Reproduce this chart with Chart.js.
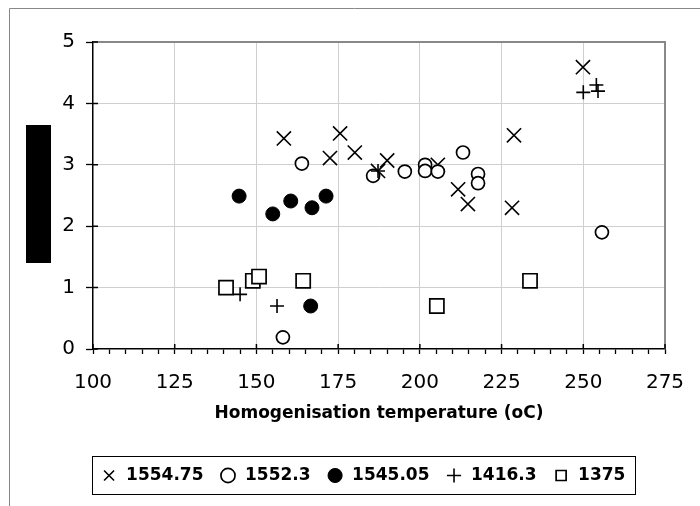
<!DOCTYPE html>
<html>
<head>
<meta charset="utf-8">
<script src="https://cdn.jsdelivr.net/npm/chart.js@4.4.1/dist/chart.umd.min.js"></script>
<style>
html, body { margin: 0; padding: 0; background: #fff; }
#wrap { width: 700px; height: 506px; position: relative; }
</style>
</head>
<body>
<div id="wrap"><canvas id="myChart"></canvas></div>
<script>
// series
var seriesNames = ["1554.75", "1552.3", "1545.05", "1416.3", "1375"];

var x1554 = [158.4, 175.6, 172.5, 180.1, 187.2, 190, 205.5, 211.7, 214.7, 228.2, 228.8, 249.9];
var y1554 = [3.43, 3.51, 3.11, 3.2, 2.9, 3.07, 3.0, 2.6, 2.36, 2.3, 3.48, 4.59];

var x1552 = [163.9, 158.1, 185.7, 195.4, 201.6, 201.6, 205.5, 213.2, 217.8, 217.8, 255.7];
var y1552 = [3.02, 0.19, 2.82, 2.89, 3.0, 2.9, 2.89, 3.2, 2.85, 2.7, 1.9];

var x1545 = [144.7, 155, 160.5, 167, 171.3, 166.6];
var y1545 = [2.49, 2.2, 2.41, 2.3, 2.49, 0.7];

var x1416 = [145, 156.3, 187.2, 250, 254.5, 254];
var y1416 = [0.89, 0.7, 2.9, 4.18, 4.2, 4.3];

var x1375 = [140.7, 148.9, 150.8, 164.3, 205.2, 233.7];
var y1375 = [1.0, 1.11, 1.18, 1.11, 0.7, 1.11];

var xTickLabels = [100, 125, 150, 175, 200, 225, 250, 275];
var yTickLabels = [0, 1, 2, 3, 4, 5];
var xTitle = "Homogenisation temperature (oC)";

function pts(xs, ys){
    return xs.map(function(v, i){ return {x: v, y: ys[i]}; });
}

Chart.defaults.font.family = "'DejaVu Sans', sans-serif";
Chart.defaults.color = '#000';

var framePlugin = {
    id: 'frame',
    beforeDraw: function(chart){
        var ctx = chart.ctx;
        ctx.save();
        ctx.strokeStyle = '#888';
        ctx.lineWidth = 1;
        ctx.beginPath();
        ctx.moveTo(9.5, 506); ctx.lineTo(9.5, 8.5); ctx.lineTo(700, 8.5);
        ctx.stroke();
        // hidden y axis title
        ctx.fillStyle = '#000';
        ctx.fillRect(26, 125, 25, 138);
        ctx.restore();
    },
    beforeDatasetsDraw: function(chart){
        var ctx = chart.ctx, a = chart.chartArea;
        ctx.save();
        ctx.strokeStyle = '#888';
        ctx.lineWidth = 2;
        ctx.beginPath();
        ctx.moveTo(a.left, a.top); ctx.lineTo(a.right, a.top); ctx.lineTo(a.right, a.bottom);
        ctx.stroke();
        ctx.restore();
    },
    afterDraw: function(chart){
        var ctx = chart.ctx, a = chart.chartArea;
        var xs = chart.scales.x, ys = chart.scales.y;
        ctx.save();
        ctx.strokeStyle = '#000';
        ctx.lineWidth = 1.5;
        ctx.beginPath();
        xTickLabels.forEach(function(v){
            var px = xs.getPixelForValue(v);
            ctx.moveTo(px, a.bottom - 5); ctx.lineTo(px, a.bottom);
        });
        yTickLabels.forEach(function(v){
            var py = ys.getPixelForValue(v);
            ctx.moveTo(a.left, py); ctx.lineTo(a.left + 5, py);
        });
        ctx.stroke();

        // legend border
        var hb = chart.legend.legendHitBoxes;
        if (hb && hb.length){
            var l = Math.min.apply(null, hb.map(function(h){ return h.left; }));
            var r = Math.max.apply(null, hb.map(function(h){ return h.left + h.width; }));
            var t = hb[0].top;
            ctx.lineWidth = 1;
            ctx.strokeStyle = '#000';
            ctx.strokeRect(Math.round(l - 9) + 0.5, Math.round(t - 11) + 0.5, Math.round(r - l + 18), 38);
        }
        ctx.restore();
    }
};

var ctx = document.getElementById('myChart').getContext('2d');
var myChart = new Chart(ctx, {
    type: 'scatter',
    data: {
        datasets: [{
            label: seriesNames[0],
            data: pts(x1554, y1554),
            pointStyle: 'crossRot',
            pointRadius: 10,
            borderColor: '#000',
            borderWidth: 1.6,
            order: 5
        }, {
            label: seriesNames[1],
            data: pts(x1552, y1552),
            pointStyle: 'circle',
            pointRadius: 6.5,
            borderColor: '#000',
            backgroundColor: '#fff',
            borderWidth: 1.7,
            order: 4
        }, {
            label: seriesNames[2],
            data: pts(x1545, y1545),
            pointStyle: 'circle',
            pointRadius: 7,
            borderColor: '#000',
            backgroundColor: '#000',
            borderWidth: 1,
            order: 3
        }, {
            label: seriesNames[3],
            data: pts(x1416, y1416),
            pointStyle: 'cross',
            pointRadius: 7,
            borderColor: '#000',
            borderWidth: 1.6,
            order: 2
        }, {
            label: seriesNames[4],
            data: pts(x1375, y1375),
            pointStyle: 'rect',
            pointRadius: 10,
            borderColor: '#000',
            backgroundColor: '#fff',
            borderWidth: 1.7,
            order: 1
        }]
    },
    options: {
        responsive: true,
        maintainAspectRatio: false,
        animation: false,
        layout: { padding: { left: 26, right: 0, top: 42, bottom: 12 } },
        plugins: {
            tooltip: { enabled: false },
            legend: {
                position: 'bottom',
                labels: {
                    usePointStyle: true,
                    boxHeight: 10,
                    padding: 16,
                    font: { size: 17, weight: 'bold' },
                    sort: function(a, b){ return a.datasetIndex - b.datasetIndex; }
                }
            }
        },
        scales: {
            x: {
                type: 'linear',
                min: 100,
                max: 275,
                afterFit: function(scale){ scale.height = 102; scale.paddingRight = 35; },
                afterBuildTicks: function(scale){
                    var t = [];
                    for (var v = 100; v <= 275; v += 5) t.push({value: v});
                    scale.ticks = t;
                },
                ticks: {
                    autoSkip: false,
                    maxRotation: 0,
                    padding: 17,
                    font: { size: 20 },
                    callback: function(v){ return xTickLabels.indexOf(v) >= 0 ? String(v) : ''; }
                },
                grid: {
                    color: function(c){ return (c.tick && xTickLabels.indexOf(c.tick.value) >= 0 && c.tick.value !== 100 && c.tick.value !== 275) ? '#cfcfcf' : 'rgba(0,0,0,0)'; },
                    tickColor: '#000',
                    tickLength: 5,
                    tickWidth: 1.3
                },
                border: { color: '#000', width: 1.5 },
                title: {
                    display: true,
                    text: xTitle,
                    font: { size: 17, weight: 'bold' },
                    padding: { top: 4, bottom: 27 }
                }
            },
            y: {
                min: 0,
                max: 5,
                afterFit: function(scale){ scale.width = 67; },
                ticks: {
                    stepSize: 1,
                    padding: 11,
                    font: { size: 20 },
                    callback: function(v){ return yTickLabels.indexOf(v) >= 0 ? String(v) : ''; }
                },
                grid: {
                    color: function(c){ return (c.tick && c.tick.value > 0 && c.tick.value < 5) ? '#cfcfcf' : 'rgba(0,0,0,0)'; },
                    tickColor: '#000',
                    tickLength: 7,
                    tickWidth: 1.3
                },
                border: { color: '#000', width: 1.5 }
            }
        }
    },
    plugins: [framePlugin]
});
</script>
</body>
</html>
